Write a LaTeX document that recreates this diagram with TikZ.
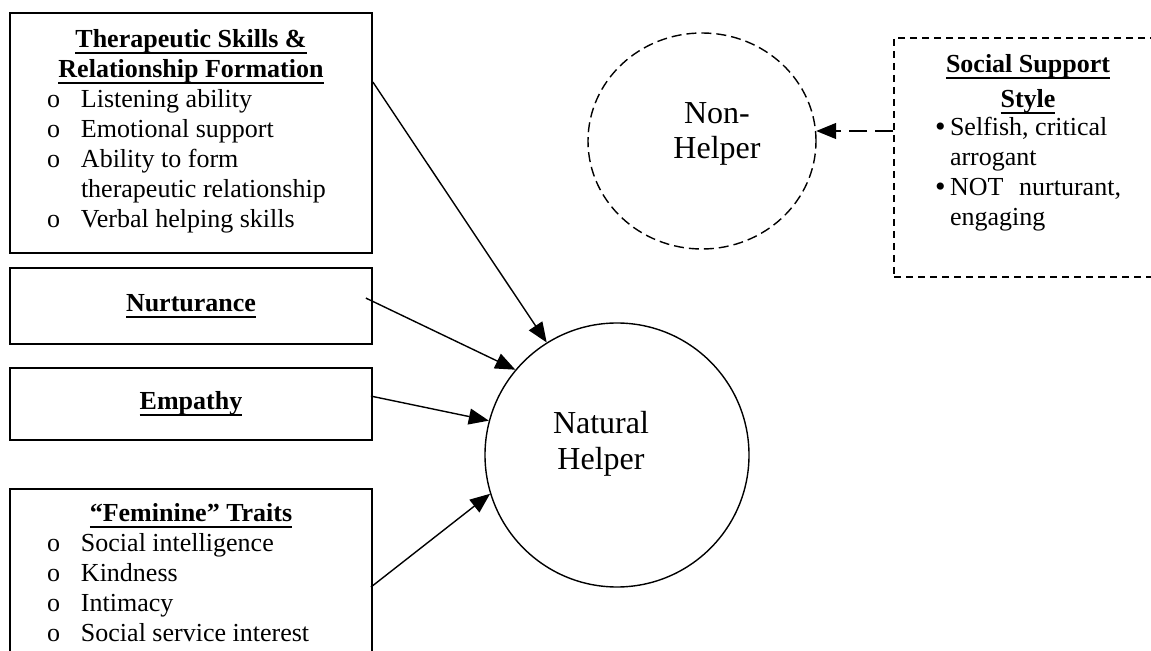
\documentclass[tikz,border=0pt]{standalone}
\usepackage{fontspec}
\setmainfont{Liberation Serif}
\usepackage{array}
\usetikzlibrary{arrows.meta,calc,shapes.geometric}
\newsavebox{\hdbox}
\newcommand{\hd}[1]{\textbf{\sbox\hdbox{#1}\rlap{\rule[-3.4pt]{\wd\hdbox}{1.1pt}}\usebox\hdbox}}
\newcommand{\olist}[1]{\begin{tabular}[t]{@{}p{17pt}@{}p{127pt}@{}}#1\end{tabular}}
\newcommand{\dotb}{\raisebox{-0.8pt}{\fontsize{15}{15}\selectfont\textbullet}}
\tikzset{
  node-box/.style={draw,line width=0.9pt,minimum width=181pt,align=center,
    inner sep=0pt,font=\fontsize{13}{15}\selectfont},
  node-dash/.style={draw,line width=0.9pt,dash pattern=on 3.5pt off 2.5pt,
    minimum width=135pt,minimum height=119.5pt},
  node-helper/.style={draw,line width=0.7pt,circle,minimum size=132pt,inner sep=0pt},
  node-nonhelper/.style={draw,line width=0.7pt,ellipse,dash pattern=on 5pt off 2.5pt,
    minimum width=114pt,minimum height=108pt,inner sep=0pt},
  node-label/.style={align=center,inner sep=0pt},
  arrow/.style={-{Triangle[length=10pt,width=8pt]},line width=0.7pt},
  arrow-dash/.style={arrow,dash pattern=on 9pt off 4pt},
}

\begin{document}
\begin{tikzpicture}[x=0.5pt,y=-0.5pt]
  \useasboundingbox (0,0) rectangle (1151,651);
  \clip (0,0) rectangle (1151,651);
  % left column: factors
  \node[node-box,minimum height=120pt] (thera) at (191,133) {%
    \hd{Therapeutic Skills \&}\\
    \hd{Relationship Formation}\\
    \olist{o & Listening ability\\
           o & Emotional support\\
           o & Ability to form\\
             & therapeutic relationship\\
           o & Verbal helping skills}};
  \node[node-box,minimum height=38pt] (nurt) at (191,306) {\hd{Nurturance}};
  \node[node-box,minimum height=36pt] (emp)  at (191,404) {\hd{Empathy}};
  \node[node-box,minimum height=88pt] (fem)  at (191,577) {%
    \hd{“Feminine” Traits}\\
    \olist{o & Social intelligence\\
           o & Kindness\\
           o & Intimacy\\
           o & Social service interest}};
  % helpers
  \node[node-helper] (nh) at (617,455) {};
  \node[node-label,font=\fontsize{16}{18}\selectfont] (nh-text) at (601,444) {Natural\\Helper};
  \node[node-nonhelper] (nonh) at (702,141) {};
  \node[node-label,font=\fontsize{16}{17.5}\selectfont] (nonh-text) at (717,133.5) {Non-\\Helper};
  % social support style
  \node[node-dash] (ss) at (1029,157.5) {};
  \node[node-label,font=\fontsize{13}{17.5}\selectfont] (ss-text) at (1028,144) {%
    \hd{Social Support}\\
    \hd{Style}\\[-3.5pt]
    \fontsize{13}{15}\selectfont
    \begin{tabular}[t]{@{}p{7.5pt}@{}l@{}}
      \dotb & Selfish, critical\\
            & arrogant\\
      \dotb & \makebox[85.5pt][s]{NOT nurturant,}\\
            & engaging
    \end{tabular}};
  % arrows
  \draw[arrow] ($(thera.north east)+(0,70)$) -- (nh.122.7);
  \draw[arrow] ($(nurt.north east)+(-7,31)$) -- (nh.140.2);
  \draw[arrow] ($(emp.north east)+(-2,29)$)  -- (nh.165.4);
  \draw[arrow] ($(fem.north east)+(-2,99)$)  -- (nh.197.7);
  \draw[arrow-dash] (ss.west |- nonh.5.5) -- (nonh.5.5);
\end{tikzpicture}
\end{document}
